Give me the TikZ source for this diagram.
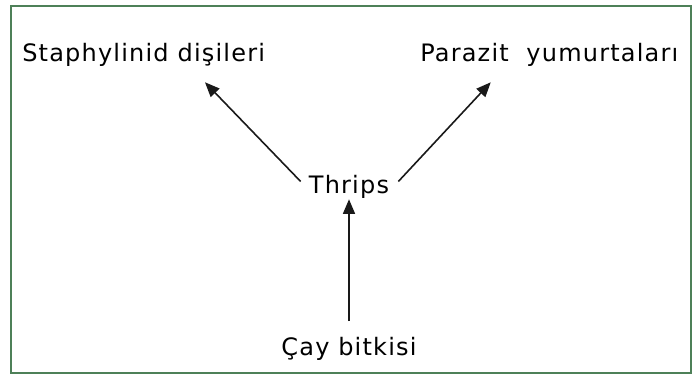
\documentclass[tikz,border=0pt]{standalone}
\usepackage{fontspec}
\setmainfont[LetterSpace=5]{DejaVu Sans}
\usepackage{tikz}
\usetikzlibrary{positioning,arrows.meta}
\definecolor{framegreen}{RGB}{78,128,88}

\begin{document}
\begin{tikzpicture}[
			x=0.75pt,y=-0.75pt,
			every node/.style={
				inner sep=0pt,
				text=black,
				font=\fontsize{18}{21}\selectfont
			},
			arrow/.style={-{Triangle[length=11pt,width=9pt]},line width=1.2pt,black!90}
			]
			
			\useasboundingbox (0,0) rectangle (697,378);
			\draw[framegreen,line width=1.6pt] (11,6) rectangle (691,373);
			
			\node[anchor=base west] (sta) at (22,62) {Staphylinid dişileri};
			\node[anchor=base west] (par) at (420,62) {Parazit~~yumurtaları};
			\node[anchor=base] (thr) at (349,194) {Thrips};
			\node[anchor=base] (cay) at (349,355) {Çay bitkisi};
			
			\draw[arrow] ([yshift=11.5pt]cay.north -| thr) -- (thr.south);
			\draw[arrow] ([xshift=-6pt,yshift=-4.5pt]thr.north west) -- ([xshift=46pt,yshift=-11.25pt]sta.south);
			\draw[arrow] ([xshift=6.75pt,yshift=-4.5pt]thr.north east) -- ([xshift=-43.9pt,yshift=-11.25pt]par.south);
			
		\end{tikzpicture}
\end{document}
